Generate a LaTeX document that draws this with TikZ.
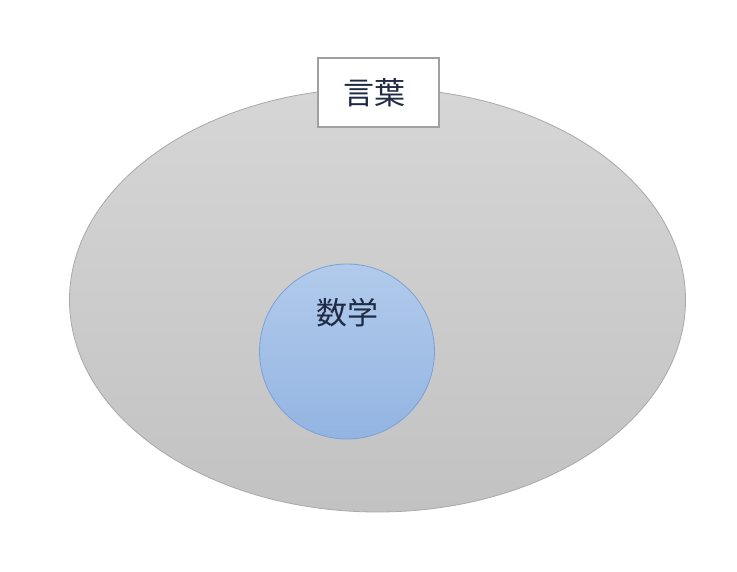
\documentclass[tikz,border=0pt]{standalone}
\usepackage{fontspec}
\newfontfamily\cjk{Noto Sans CJK JP}
\usetikzlibrary{shapes.geometric}
\definecolor{ellTop}{HTML}{D6D6D6}
\definecolor{ellBot}{HTML}{C2C2C2}
\definecolor{ellLine}{HTML}{A9A9A9}
\definecolor{cirTop}{HTML}{B2CBEB}
\definecolor{cirBot}{HTML}{93B4E2}
\definecolor{cirLine}{HTML}{7BA1D5}
\definecolor{txt}{HTML}{1F2A44}
\definecolor{boxLine}{HTML}{A0A0A0}
\tikzset{
  outerell/.style={ellipse, draw=ellLine, line width=0.8pt, top color=ellTop, bottom color=ellBot, minimum width=616pt, minimum height=424pt, inner sep=0pt},
  innercirc/.style={circle, draw=cirLine, line width=0.8pt, top color=cirTop, bottom color=cirBot, minimum size=175pt, inner sep=0pt},
  labelbox/.style={rectangle, draw=boxLine, line width=2pt, fill=white, minimum width=121pt, minimum height=69pt, inner sep=0pt},
  labeltext/.style={text=txt, font=\cjk\fontsize{31}{36}\selectfont, inner sep=0pt}
}
\begin{document}
\begin{tikzpicture}[x=1pt,y=-1pt]
\useasboundingbox (0,0) rectangle (737,572);
\node[outerell] (lang) at (377.5,300) {};
\node[innercirc] (math) at (347,351.5) {};
\node[labeltext] (mathlbl) at (347,313) {数学};
\node[labelbox] (box) at (378.5,92.5) {};
\node[labeltext] (langlbl) at (374,93) {言葉};
\end{tikzpicture}
\end{document}
